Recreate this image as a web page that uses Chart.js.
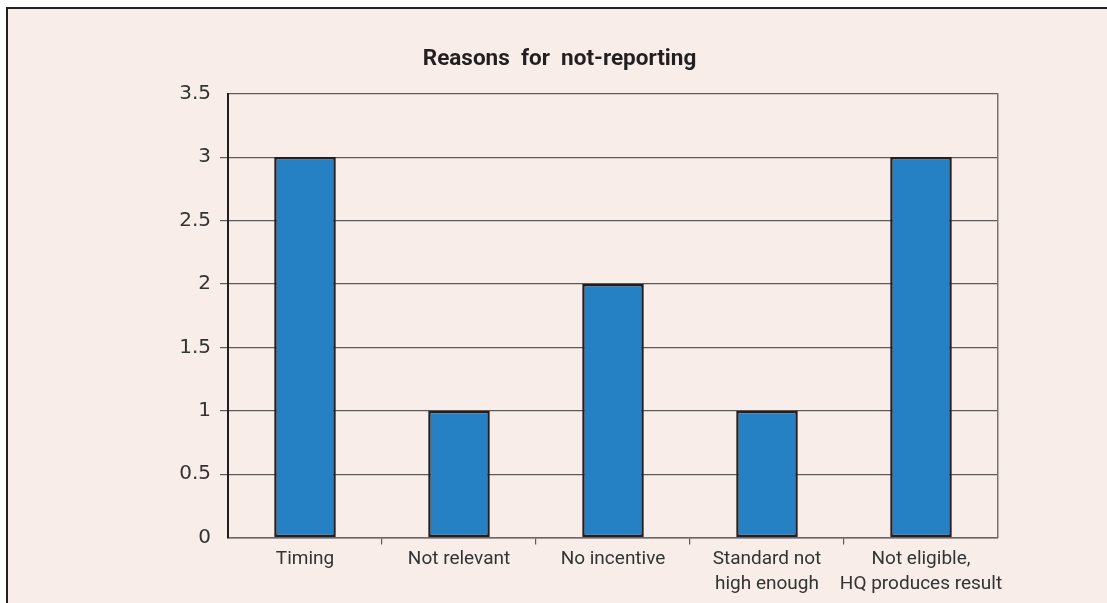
<!DOCTYPE html>
<html>
<head>
<meta charset="utf-8">
<title>Reasons for not-reporting</title>
<script src="https://cdn.jsdelivr.net/npm/chart.js@4/dist/chart.umd.min.js"></script>
<style>
  html, body { margin: 0; padding: 0; background: #ffffff; }
  body { width: 1107px; height: 603px; position: relative; overflow: hidden; }
  #panel {
    position: absolute; left: 6px; top: 7px; width: 1101px; height: 596px;
    background: #f8ede8;
    border-top: 2.5px solid #231f20;
    border-left: 2.5px solid #231f20;
    box-sizing: border-box;
  }
  #chart { position: absolute; left: 0; top: 0; }
</style>
</head>
<body>
<div id="panel"></div>
<canvas id="chart" width="1107" height="603"></canvas>
<script>
// Reasons given for not reporting results
const categories = [
  'Timing',
  'Not relevant',
  'No incentive',
  ['Standard not', 'high enough'],
  ['Not eligible,', 'HQ produces result']
];
const counts = [3, 1, 2, 1, 3];
const yTicks = [0, 0.5, 1, 1.5, 2, 2.5, 3, 3.5];

const titleText = 'Reasons  for  not-reporting';
const ink = '#231f20';
const gridGrey = '#5e5a5a';
const labelGrey = '#333333';

new Chart(document.getElementById('chart'), {
  type: 'bar',
  data: {
    labels: categories,
    datasets: [{
      data: counts,
      backgroundColor: '#2581c4',
      borderColor: ink,
      borderWidth: 2.5,
      borderSkipped: false,
      categoryPercentage: 1,
      barPercentage: 0.4
    }]
  },
  options: {
    responsive: false,
    animation: false,
    devicePixelRatio: 1,
    layout: { padding: { top: 15, left: 12, right: 0, bottom: 0 } },
    plugins: {
      legend: { display: false },
      tooltip: { enabled: false },
      title: {
        display: true,
        text: titleText,
        color: ink,
        font: { family: 'Roboto', weight: 'bold', size: 22.5, lineHeight: 1.2 },
        padding: { top: 31, bottom: 20.7 }
      }
    },
    scales: {
      x: {
        offset: true,
        grid: {
          drawOnChartArea: false,
          drawTicks: true,
          tickLength: 7,
          lineWidth: 1.2,
          color: (c) => (c.type === 'tick' && c.index > 0) ? gridGrey : 'rgba(0,0,0,0)'
        },
        border: { color: '#6a6666', width: 1.5 },
        ticks: {
          color: labelGrey,
          padding: 2,
          maxRotation: 0,
          autoSkip: false,
          font: { family: 'Roboto', size: 19, lineHeight: 1.32 }
        },
        afterFit: (s) => { s.height = 65.5; }
      },
      y: {
        min: 0,
        max: 3.5,
        afterBuildTicks: (s) => { s.ticks = yTicks.map(v => ({ value: v })); },
        grid: {
          drawTicks: true,
          tickLength: 8,
          lineWidth: 1.2,
          color: gridGrey,
          tickColor: (c) => (c.tick && (c.tick.value === 0 || c.tick.value === 3.5)) ? 'rgba(0,0,0,0)' : gridGrey
        },
        border: { color: ink, width: 2 },
        ticks: {
          color: labelGrey,
          padding: 9,
          font: { family: 'DejaVu Sans', size: 20 },
          callback: (v) => String(v)
        },
        afterFit: (s) => { s.width = 216; }
      },
      yRight: {
        position: 'right',
        min: 0,
        max: 3.5,
        grid: { drawOnChartArea: false, drawTicks: false },
        border: { color: '#777373', width: 1.5 },
        ticks: { display: false },
        afterFit: (s) => { s.width = 109; }
      }
    }
  }
});
</script>
</body>
</html>
